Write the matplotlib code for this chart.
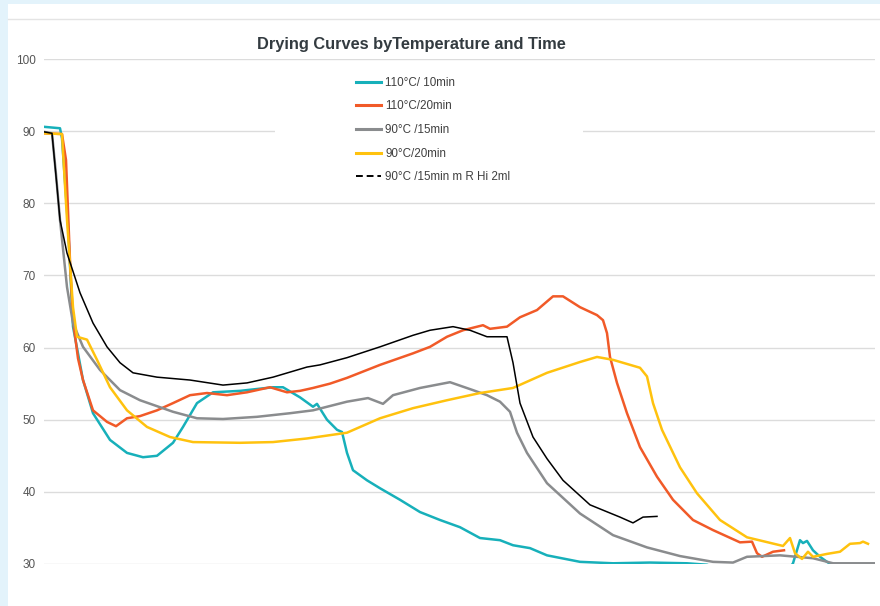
import matplotlib.pyplot as plt
from matplotlib.lines import Line2D
from matplotlib.patches import Rectangle

plt.rcParams['font.family'] = ['Liberation Sans', 'DejaVu Sans']

# Data (time in arbitrary sample units, moisture %)
t_110_10 = [0, 16, 18, 24, 29, 39, 49, 66, 83, 99, 113, 129, 139, 153, 169, 196, 229, 239, 256,
            269, 273, 283, 293, 298, 303, 309, 323, 336, 356, 376, 396, 416, 436, 456, 469, 486,
            503, 536, 569, 606, 643, 663, 671, 746, 749, 756, 759, 763, 769, 776, 783, 791]
v_110_10 = [90.6, 90.4, 89.0, 77.0, 62.9, 55.5, 50.9, 47.2, 45.4, 44.8, 45.0, 46.8, 49.0, 52.3,
            53.8, 54.0, 54.5, 54.5, 53.1, 51.8, 52.2, 50.0, 48.6, 48.3, 45.4, 43.0, 41.6, 40.5,
            38.9, 37.2, 36.1, 35.1, 33.6, 33.3, 32.6, 32.2, 31.2, 30.3, 30.1, 30.2, 30.1, 29.9,
            29.5, 29.5, 30.1, 33.3, 32.9, 33.2, 31.9, 31.0, 30.3, 29.6]

t_110_20 = [0, 18, 22, 26, 29, 34, 39, 49, 63, 72, 83, 96, 113, 129, 146, 163, 183, 203, 226,
            243, 256, 269, 286, 303, 336, 369, 386, 403, 419, 439, 446, 463, 476, 493, 509, 519,
            536, 553, 559, 563, 566, 573, 583, 596, 613, 629, 649, 669, 696, 708, 713, 718, 729, 740]
v_110_20 = [89.7, 89.6, 86.0, 72.0, 63.8, 58.5, 55.5, 51.3, 49.7, 49.1, 50.2, 50.5, 51.3, 52.3,
            53.4, 53.7, 53.4, 53.8, 54.5, 53.8, 54.0, 54.4, 55.0, 55.8, 57.6, 59.2, 60.1, 61.5,
            62.4, 63.1, 62.6, 62.9, 64.2, 65.2, 67.1, 67.1, 65.6, 64.5, 63.8, 62.0, 58.7, 55.1,
            50.9, 46.2, 42.1, 38.9, 36.1, 34.7, 33.0, 33.1, 31.5, 31.0, 31.7, 31.9]

t_90_15 = [0, 8, 12, 16, 23, 29, 39, 56, 76, 96, 129, 153, 179, 213, 246, 269, 303, 324, 339,
           349, 376, 406, 429, 443, 456, 466, 473, 483, 503, 536, 569, 603, 636, 669, 689, 703,
           736, 769, 789, 831]
v_90_15 = [89.9, 89.7, 84.0, 77.7, 68.4, 63.4, 60.1, 56.9, 54.1, 52.7, 51.1, 50.2, 50.1, 50.4,
           50.9, 51.3, 52.5, 53.0, 52.2, 53.4, 54.4, 55.2, 54.1, 53.4, 52.5, 51.1, 48.2, 45.4,
           41.2, 37.0, 34.0, 32.3, 31.1, 30.3, 30.2, 31.0, 31.2, 30.8, 30.1, 30.1]

t_90_20 = [0, 18, 23, 29, 33, 43, 53, 66, 83, 103, 126, 149, 196, 229, 263, 303, 336, 369, 403,
           436, 469, 503, 536, 553, 569, 596, 603, 609, 618, 636, 653, 676, 703, 739, 746, 751,
           758, 764, 769, 783, 796, 806, 816, 819, 824]
v_90_20 = [89.7, 89.6, 77.7, 65.6, 61.5, 61.1, 58.3, 54.5, 51.3, 49.0, 47.6, 46.9, 46.8, 46.9,
           47.4, 48.2, 50.2, 51.6, 52.7, 53.7, 54.4, 56.5, 58.0, 58.7, 58.3, 57.2, 56.0, 52.3,
           48.6, 43.4, 39.8, 36.1, 33.7, 32.5, 33.6, 31.5, 30.7, 31.7, 31.0, 31.4, 31.7, 32.8,
           32.9, 33.1, 32.8]

t_90_15_ri = [0, 8, 13, 16, 23, 36, 49, 63, 76, 89, 113, 146, 179, 203, 229, 263, 276, 303, 336,
              369, 386, 409, 426, 443, 463, 469, 476, 489, 503, 519, 546, 576, 589, 599, 613]
v_90_15_ri = [89.9, 89.7, 82.3, 77.7, 73.1, 67.6, 63.4, 60.1, 57.9, 56.5, 55.9, 55.5, 54.8,
              55.1, 55.9, 57.3, 57.6, 58.6, 60.1, 61.7, 62.4, 62.9, 62.4, 61.5, 61.5, 57.9, 52.3,
              47.6, 44.6, 41.6, 38.2, 36.5, 35.7, 36.5, 36.6]

labels = ['110°C/ 10min', '110°C/20min', '90°C /15min', '90°C/20min', '90°C /15min m R Hi 2ml']
colors = ['#17b0ba', '#f15a28', '#8a8c8e', '#ffc20e', '#000000']
y_ticks = [30, 40, 50, 60, 70, 80, 90, 100]

fig = plt.figure(figsize=(8.8, 6.06), dpi=100)
fig.patch.set_facecolor('#e3f3fb')

# white card behind the chart + thin header divider
card = Rectangle((8 / 880, 0), 1, 1 - 4 / 606, transform=fig.transFigure,
                 facecolor='white', edgecolor='none', zorder=-5)
fig.patches.append(card)
fig.add_artist(Line2D([8 / 880, 1], [1 - 19 / 606] * 2, transform=fig.transFigure,
                      color='#e4e4e4', linewidth=1, zorder=-4))

ax = fig.add_axes([44 / 880, 1 - 564 / 606, 831 / 880, 505 / 606])
ax.set_facecolor('none')
ax.set_zorder(2)

series = [(t_110_10, v_110_10), (t_110_20, v_110_20), (t_90_15, v_90_15),
          (t_90_20, v_90_20), (t_90_15_ri, v_90_15_ri)]
for (t, v), c, lab in zip(series, colors, labels):
    lw = 1.1 if c == '#000000' else 1.8
    ax.plot(t, v, color=c, linewidth=lw, label=lab, zorder=3, solid_joinstyle='round')

ax.set_xlim(0, 831)
ax.set_ylim(30, 100)
ax.set_yticks(y_ticks)
ax.set_xticks([])
ax.tick_params(axis='y', length=0, labelsize=8.5, labelcolor='#555555', pad=6)
for s in ax.spines.values():
    s.set_visible(False)
ax.set_axisbelow(True)
ax.grid(axis='y', color='#dcdcdc', linewidth=1)

# white block behind the legend hides the 90 gridline like the original
ax.add_patch(Rectangle((231 / 831, 1 - 131 / 505), 308 / 831, 120 / 505, transform=ax.transAxes,
                       facecolor='white', edgecolor='none', zorder=1))

handles = [Line2D([], [], color=c, linewidth=2.2) for c in colors[:4]]
handles.append(Line2D([], [], color='black', linewidth=1.4, linestyle=(0, (3.5, 2))))
leg = ax.legend(handles, labels, loc='upper left', bbox_to_anchor=(307 / 831, 1 - 13 / 505),
                frameon=False, fontsize=8.4, handlelength=2.15, handletextpad=0.4,
                labelspacing=1.0, borderaxespad=0)
for txt in leg.get_texts():
    txt.set_color('#404040')

fig.text(411 / 880, 1 - 44.5 / 606, 'Drying Curves byTemperature and Time', ha='center',
         va='center', fontsize=11.8, fontweight='bold', color='#333b40')

fig.savefig('out.png', dpi=100, facecolor=fig.get_facecolor())
